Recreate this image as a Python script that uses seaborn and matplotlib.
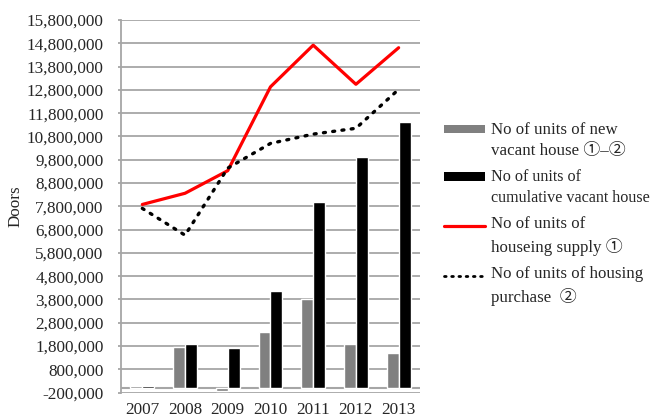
import numpy as np
import pandas as pd
import matplotlib
matplotlib.use("Agg")
import matplotlib.pyplot as plt
import seaborn as sns
from matplotlib.patches import Patch
from matplotlib.lines import Line2D
from matplotlib.legend_handler import HandlerPatch, HandlerLine2D
from matplotlib.ticker import FuncFormatter, MultipleLocator

years = ["2007", "2008", "2009", "2010", "2011", "2012", "2013"]
new_vacant = [100000, 1740000, -120000, 2390000, 3820000, 1870000, 1490000]
cumulative_vacant = [100000, 1880000, 1730000, 4160000, 7980000, 9930000, 11430000]
housing_supply = [7880000, 8360000, 9330000, 12930000, 14720000, 13040000, 14610000]
housing_purchase = [7710000, 6560000, 9440000, 10500000, 10900000, 11150000, 12820000]

labels = [
    "No of units of new\nvacant house \u2460\u2013\u2461",
    "No of units of\ncumulative vacant house",
    "No of units of\nhouseing supply \u2460",
    "No of units of housing\npurchase  \u2461",
]

sns.set_theme(style="white")
FAM = ["Liberation Serif", "Noto Sans CJK JP", "DejaVu Sans"]
plt.rcParams["font.family"] = FAM

bars = pd.DataFrame({
    "year": years * 2,
    "value": new_vacant + cumulative_vacant,
    "series": [labels[0]] * len(years) + [labels[1]] * len(years),
})

fig = plt.figure(figsize=(6.61, 4.17), dpi=100)
ax = fig.add_axes([0.1830, 0.0585, 0.6354 - 0.1830, 0.952 - 0.0585])

grid_c = "#a6a6a6"
ax.yaxis.set_major_locator(MultipleLocator(1000000, offset=-200000))
ax.set_ylim(-200000, 15800000)
ax.grid(axis="y", color=grid_c, linewidth=1.3, zorder=0)
ax.set_axisbelow(True)

sns.barplot(data=bars, x="year", y="value", hue="series",
            palette=["#808080", "#000000"], width=0.56, gap=0,
            saturation=1, ax=ax, legend=False, zorder=2)

xpos = np.arange(len(years))
sns.lineplot(x=xpos, y=housing_supply, color="#ff0000", linewidth=2.3, ax=ax, zorder=3)
sns.lineplot(x=xpos, y=housing_purchase, color="#000000", linewidth=2.4,
             linestyle=(0, (0.6, 2.2)), ax=ax, zorder=3)
ax.lines[-1].set_dash_capstyle("round")

ax.axhline(0, color=grid_c, linewidth=1.5, zorder=1)
ax.set_xlim(-0.5, 6.5)
ax.set_ylim(-200000, 15800000)

for s in ["top", "right", "bottom"]:
    ax.spines[s].set_visible(False)
ax.spines["left"].set_color(grid_c)
ax.spines["left"].set_linewidth(1.3)

ax.yaxis.set_major_formatter(FuncFormatter(lambda v, p: f"{int(round(v)):,}"))
ax.tick_params(axis="y", left=True, length=2, width=1.3, color=grid_c,
               labelsize=12.3, pad=10.5)
ax.tick_params(axis="x", bottom=False, labelsize=12.3, pad=0.5)
for t in ax.get_yticklabels() + ax.get_xticklabels():
    t.set_family(FAM)
ax.set_xlabel("")
ax.set_ylabel("Doors", fontsize=12.3, family=FAM, labelpad=2)


class UpPatch(HandlerPatch):
    def create_artists(self, legend, orig_handle, xdescent, ydescent, width, height, fontsize, trans):
        return super().create_artists(legend, orig_handle, xdescent, ydescent - 8.0,
                                      width, height, fontsize, trans)


class UpLine(HandlerLine2D):
    def create_artists(self, legend, orig_handle, xdescent, ydescent, width, height, fontsize, trans):
        return super().create_artists(legend, orig_handle, xdescent, ydescent - 16.0,
                                      width, height, fontsize, trans)


handles = [
    Patch(facecolor="#808080", edgecolor="none"),
    Patch(facecolor="#000000", edgecolor="none"),
    Line2D([], [], color="#ff0000", linewidth=2.3),
    Line2D([], [], color="#000000", linewidth=2.0, linestyle=(0, (0.6, 2.0)),
           dash_capstyle="round"),
]
hmap = {handles[0]: UpPatch(), handles[1]: UpPatch(),
        handles[2]: UpLine(), handles[3]: UpLine()}
leg = fig.legend(handles, labels, handler_map=hmap, loc="upper left",
                 bbox_to_anchor=(0.672, 0.708), frameon=False,
                 prop={"family": FAM, "size": 12.2},
                 handlelength=2.4, handleheight=0.4, handletextpad=0.35,
                 labelspacing=0.62, borderaxespad=0, borderpad=0)
for t in leg.get_texts():
    t.set_linespacing(1.4)
leg.get_texts()[1].set_fontsize(11.6)

fig.savefig("out.png", dpi=100)
